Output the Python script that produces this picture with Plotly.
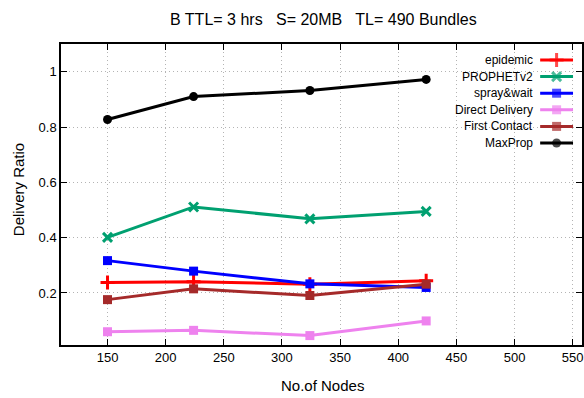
import plotly.graph_objects as go

# ---- data ----
nodes = [150, 224, 324, 424]
epidemic = [0.238, 0.241, 0.232, 0.244]
prophet = [0.401, 0.511, 0.468, 0.495]
spray_wait = [0.317, 0.279, 0.233, 0.220]
direct_delivery = [0.060, 0.065, 0.046, 0.099]
first_contact = [0.176, 0.215, 0.191, 0.232]
maxprop = [0.827, 0.910, 0.932, 0.972]

series_names = ["epidemic", "PROPHETv2", "spray&wait", "Direct Delivery", "First Contact", "MaxProp"]
series_vals = [epidemic, prophet, spray_wait, direct_delivery, first_contact, maxprop]
colors = ["#ff0000", "#00a070", "#0000ff", "#ee82ee", "#a52a2a", "#000000"]
symbols = ["cross-thin", "x-thin", "square", "square", "square", "circle"]
sizes = [10, 9, 9, 9, 9, 9]

title_text = "B TTL= 3 hrs   S= 20MB   TL= 490 Bundles"
x_title = "No.of Nodes"
y_title = "Delivery Ratio"
x_ticks = [150, 200, 250, 300, 350, 400, 450, 500, 550]
y_ticks = [0.2, 0.4, 0.6, 0.8, 1.0]
y_ticklabels = ["0.2", "0.4", "0.6", "0.8", "1"]

W, H = 584, 398
L, R, T, B = 61, 0, 44, 53
FONT = "Liberation Sans"
PW, PH = W - L - R, H - T - B


def px(x):
    return (x - L) / PW


def py(y):
    return (H - B - y) / PH


fig = go.Figure()

for name, vals, c, s, sz in zip(series_names, series_vals, colors, symbols, sizes):
    thin = s.endswith("thin")
    fig.add_trace(go.Scatter(
        x=nodes, y=vals, mode="lines+markers", name=name, showlegend=False,
        line=dict(color=c, width=3),
        marker=dict(symbol=s, size=sz, color=c,
                    line=dict(color=c, width=3 if thin else 0)),
        cliponaxis=False,
    ))

# manual gnuplot-style legend (text right, sample on the right) in pixel axes
leg_y0, leg_dy = 60, 16.6
for i, (name, c, s, sz) in enumerate(zip(series_names, colors, symbols, sizes)):
    yy = leg_y0 + i * leg_dy
    thin = s.endswith("thin")
    fig.add_trace(go.Scatter(
        x=[542, 558.5, 575], y=[yy, yy, yy], xaxis="x2", yaxis="y2",
        mode="lines+markers", showlegend=False, hoverinfo="skip",
        line=dict(color=c, width=3),
        marker=dict(symbol=s, size=[0, sz, 0], color=c,
                    line=dict(color=c, width=3 if thin else 0)),
        cliponaxis=False,
    ))
    fig.add_annotation(x=px(537), y=py(yy), xref="paper", yref="paper", text=name,
                       showarrow=False, xanchor="right", yanchor="middle",
                       font=dict(family=FONT, size=12, color="#000"))

fig.add_annotation(x=px(325), y=py(19), xref="paper", yref="paper", text=title_text,
                   showarrow=False, xanchor="center", yanchor="middle",
                   font=dict(family=FONT, size=16, color="#000"))
fig.add_annotation(x=px(324), y=py(385), xref="paper", yref="paper", text=x_title,
                   showarrow=False, xanchor="center", yanchor="middle",
                   font=dict(family=FONT, size=15, color="#000"))
fig.add_annotation(x=px(18), y=py(190), xref="paper", yref="paper", text=y_title,
                   textangle=-90, showarrow=False, xanchor="center", yanchor="middle",
                   font=dict(family=FONT, size=15, color="#000"))

axis_common = dict(showline=True, linecolor="#000", linewidth=1.5, mirror="ticks",
                   ticks="inside", ticklen=6, tickcolor="#000", tickwidth=1,
                   showgrid=True, gridcolor="#b4b4b4", griddash="1px,3px", gridwidth=1,
                   zeroline=False, tickfont=dict(family=FONT, size=13, color="#000"))

fig.update_layout(
    width=W, height=H, margin=dict(l=L, r=R, t=T, b=B),
    paper_bgcolor="white", plot_bgcolor="white",
    xaxis=dict(range=[110, 558], tickvals=x_ticks, **axis_common),
    yaxis=dict(range=[0.012, 1.1], tickvals=y_ticks, ticktext=y_ticklabels, **axis_common),
    xaxis2=dict(overlaying="x", range=[L, W - R], visible=False, fixedrange=True),
    yaxis2=dict(overlaying="y", range=[H - B, T], visible=False, fixedrange=True),
)

fig.write_html("out.html")
